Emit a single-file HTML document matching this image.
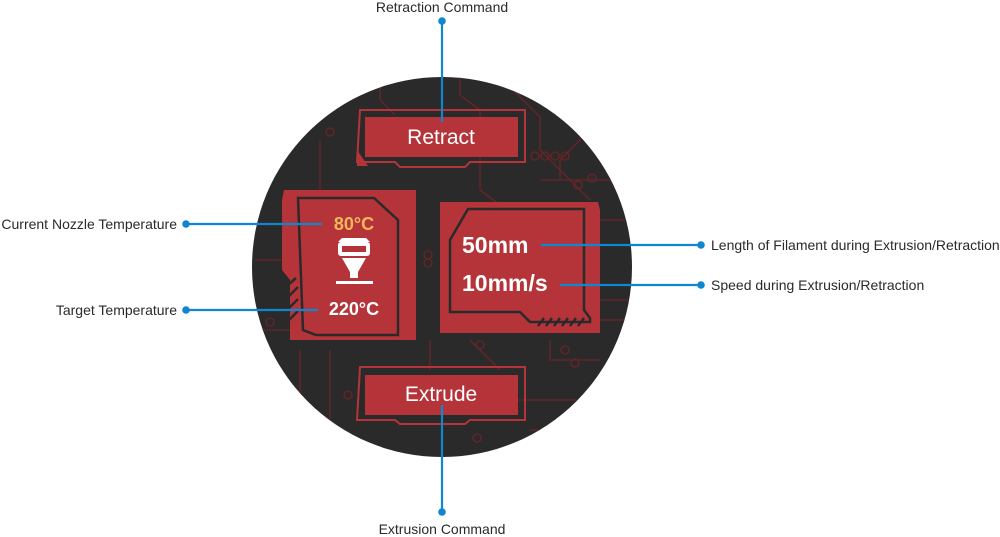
<!DOCTYPE html>
<html><head><meta charset="utf-8"><style>
html,body{margin:0;padding:0;background:#fff;}
svg{display:block;}
.lbl{font-family:"Liberation Sans",sans-serif;font-size:14px;fill:#2a2a2a;}
.big{font-family:"Liberation Sans",sans-serif;fill:#fff;}
</style></head><body>
<svg width="1000" height="537" viewBox="0 0 1000 537" xmlns="http://www.w3.org/2000/svg">
<defs><clipPath id="cc"><circle cx="442" cy="267" r="190"/></clipPath></defs>
<circle cx="442" cy="267" r="190" fill="#2a2a2a"/>
<g clip-path="url(#cc)" stroke="#6a2427" stroke-width="1.3" fill="none">
<path d="M380 77 V100 L395 115"/><path d="M460 77 V95 L480 110 V190 L520 220"/>
<path d="M500 77 L540 117 V150 L590 200"/><path d="M320 140 V200 L300 220"/>
<path d="M540 180 H640"/><path d="M600 220 H640"/><path d="M600 300 H640"/><path d="M600 320 H640"/>
<path d="M260 330 H290"/><path d="M255 260 H285"/><path d="M300 350 V420"/><path d="M330 350 V430 L360 450"/>
<path d="M430 340 V370"/><path d="M470 340 L500 370"/><path d="M550 340 V360 L600 360"/>
<path d="M530 430 H600"/><path d="M510 400 H620"/><path d="M560 180 V160 L590 130"/>
<circle cx="330" cy="132" r="4"/><circle cx="535" cy="156" r="4"/><circle cx="545" cy="156" r="4"/><circle cx="555" cy="156" r="4"/><circle cx="565" cy="156" r="4"/>
<circle cx="578" cy="185" r="4"/><circle cx="592" cy="178" r="4"/><circle cx="428" cy="255" r="4"/><circle cx="428" cy="263" r="4"/>
<circle cx="480" cy="345" r="4"/><circle cx="565" cy="350" r="4"/><circle cx="575" cy="363" r="4"/><circle cx="477" cy="438" r="4"/><circle cx="348" cy="395" r="4"/><circle cx="270" cy="322" r="4"/>
</g>
<g>
<path d="M360 110 H525 V162 H470 L465 167 H400 L395 162 H357 Z" fill="none" stroke="#b5343a" stroke-width="2"/>
<rect x="365" y="117" width="153" height="40" fill="#b5343a"/>
<path d="M357 150 V166 H368" fill="#b5343a"/>
<text x="441" y="144" class="big" font-size="21" text-anchor="middle">Retract</text>
</g>
<g>
<path d="M360 367 H525 V420 H470 L465 424 H400 L395 420 H357 Z" fill="none" stroke="#b5343a" stroke-width="2"/>
<rect x="365" y="375" width="153" height="40" fill="#b5343a"/>
<text x="441" y="401" class="big" font-size="21" text-anchor="middle">Extrude</text>
</g>
<g>
<path d="M284 190 H416 V340 H290 V280 L282 270 V200 Z" fill="#b5343a"/>
<path d="M298 198 H374 L398 220 V335 H316 L303 330 Z" fill="none" stroke="#2a2a2a" stroke-width="2.5"/>
<path d="M288 285 L296 278 M288 297 L298 287 M288 309 L298 299 M288 321 L298 311" stroke="#2a2a2a" stroke-width="2.5"/>
<text x="354" y="230" class="big" font-size="18" font-weight="600" style="fill:#f2b75a" text-anchor="middle">80°C</text>
<rect x="338" y="242" width="32" height="14" rx="3" fill="#fff"/>
<rect x="342" y="246" width="24" height="6" fill="#b5343a"/>
<path d="M342 238 H366 L370 242 H338 Z" fill="#fff"/>
<path d="M342 258 H366 L358 272 V278 H350 V272 Z" fill="#fff"/>
<rect x="336" y="281" width="37" height="3" fill="#fff"/>
<text x="354" y="315" class="big" font-size="18" font-weight="600" text-anchor="middle">220°C</text>
</g>
<g>
<path d="M440 202 H598 L600 210 V333 H440 Z" fill="#b5343a"/>
<path d="M468 209 H584 V310 L590 318 V322 H530 L520 312 H450 V240 Z" fill="none" stroke="#2a2a2a" stroke-width="2.5"/>
<path d="M538 326 L544 318 M546 326 L552 318 M554 326 L560 318 M562 326 L568 318 M570 326 L576 318 M578 326 L584 318" stroke="#2a2a2a" stroke-width="2.5"/>
<text x="462" y="253" class="big" font-size="23" font-weight="bold">50mm</text>
<text x="462" y="291" class="big" font-size="23" font-weight="bold">10mm/s</text>
</g>
<g stroke="#0f87d0" stroke-width="2.2" fill="#0f87d0">
<line x1="442" y1="21" x2="442" y2="122"/><circle cx="442" cy="21" r="3.8" stroke="none"/>
<line x1="442" y1="405" x2="442" y2="512"/><circle cx="442" cy="512" r="3.8" stroke="none"/>
<line x1="186" y1="224" x2="322" y2="224"/><circle cx="186" cy="224" r="3.8" stroke="none"/>
<line x1="186" y1="310" x2="318" y2="310"/><circle cx="186" cy="310" r="3.8" stroke="none"/>
<line x1="541" y1="245" x2="701" y2="245"/><circle cx="701" cy="245" r="3.8" stroke="none"/>
<line x1="560" y1="285" x2="701" y2="285"/><circle cx="701" cy="285" r="3.8" stroke="none"/>
</g>
<text x="442" y="12" class="lbl" text-anchor="middle">Retraction Command</text>
<text x="442" y="534" class="lbl" text-anchor="middle">Extrusion Command</text>
<text x="177" y="229" class="lbl" text-anchor="end">Current Nozzle Temperature</text>
<text x="177" y="315" class="lbl" text-anchor="end">Target Temperature</text>
<text x="711" y="250" class="lbl">Length of Filament during Extrusion/Retraction</text>
<text x="711" y="290" class="lbl">Speed during Extrusion/Retraction</text>
</svg>
</body></html>
